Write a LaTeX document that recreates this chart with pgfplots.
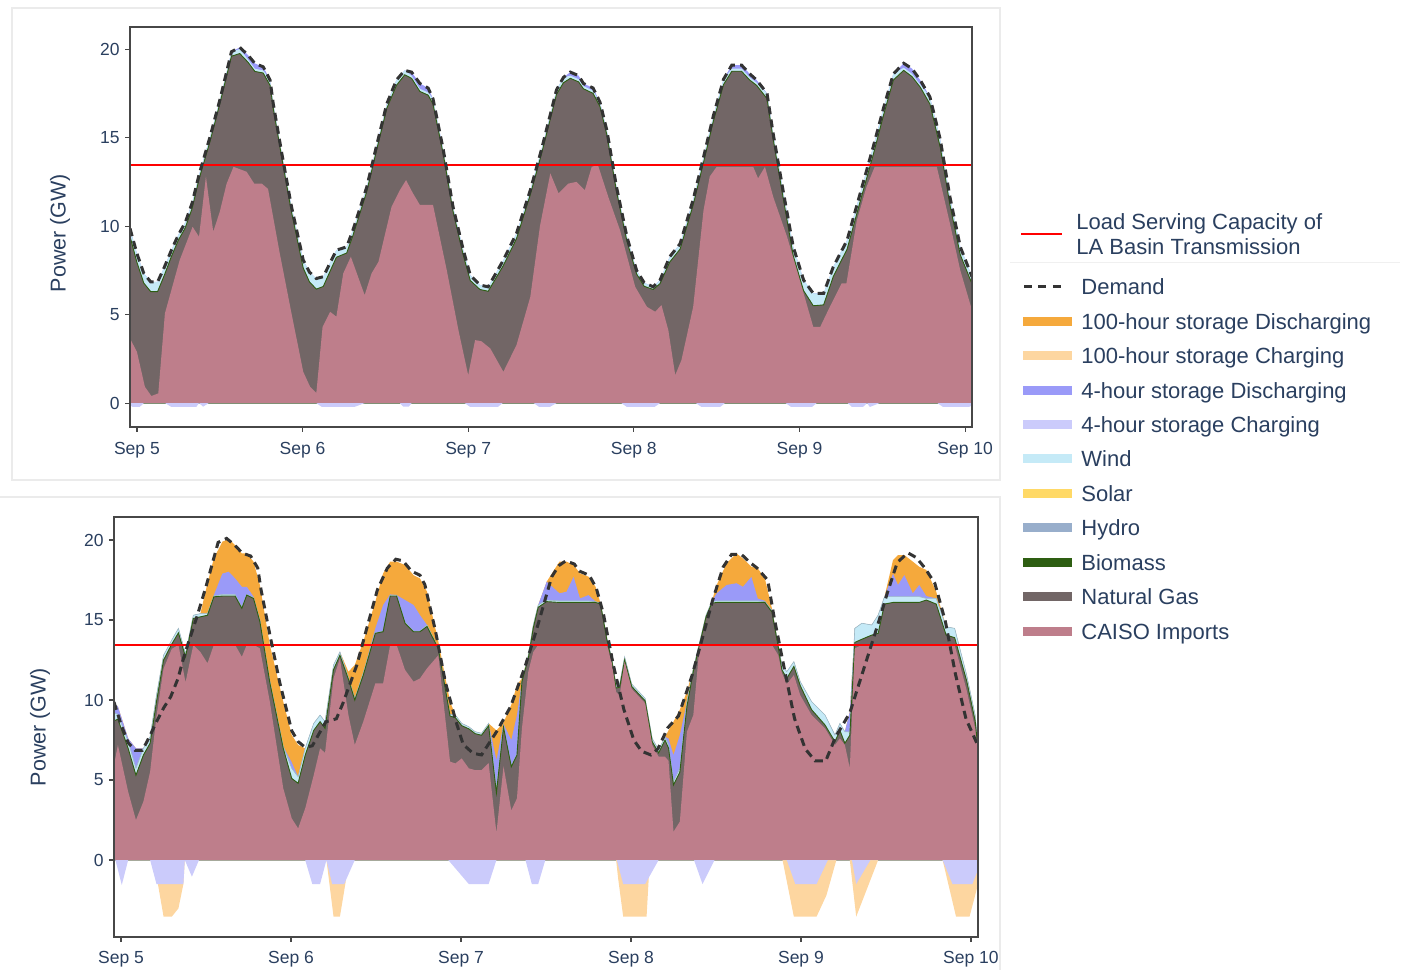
\documentclass[border=0pt]{standalone}
\usepackage{fontspec}
\setmainfont{Liberation Sans}
\usepackage{pgfplots}
\usepackage{pgfplotstable}
\pgfplotsset{compat=1.18}

\definecolor{txt}{HTML}{2A3F5F}
\definecolor{cimp}{HTML}{BE7E8B}
\definecolor{cgas}{HTML}{726666}
\definecolor{cbio}{HTML}{2E5E12}
\definecolor{chyd}{HTML}{98AECB}
\definecolor{csol}{HTML}{FFD966}
\definecolor{cwind}{HTML}{C5EAF7}
\definecolor{cfch}{HTML}{CBCBFB}
\definecolor{cfdis}{HTML}{9A9AF8}
\definecolor{chch}{HTML}{FDD6A0}
\definecolor{chdis}{HTML}{F5A93C}
\definecolor{cdem}{HTML}{333333}

% top panel: demand D, wind top W, gas top G (cumulative)
\pgfplotstableread{
h D W G
-1 9.87 9.87 9.42
0 8.46 8.46 7.96
1 7.33 7.33 6.78
2 6.85 6.85 6.30
3 6.85 6.85 6.30
4 7.70 7.70 7.25
5 8.64 8.64 8.29
6 9.50 9.50 9.20
7 10.20 10.20 9.90
8 11.30 11.30 11.00
9 12.90 12.90 12.65
10.6 15.05 15.05 14.80
12 17.10 17.10 16.90
13.7 19.85 19.85 19.60
14.9 20.10 20.00 19.75
16.1 19.66 19.41 19.26
17.1 19.19 18.89 18.74
18.3 19.00 18.80 18.65
19.3 18.25 18.25 17.95
19.75 16.93 16.93 16.68
21 14.10 14.10 13.85
22.4 11.10 11.10 10.80
24.1 8.08 8.08 7.63
25 7.40 7.40 6.85
26 7.04 7.04 6.44
27 7.14 7.14 6.59
28.9 8.64 8.64 8.24
30.4 8.83 8.83 8.48
31.3 9.77 9.77 9.47
33.3 12.20 12.20 11.95
34.7 14.50 14.50 14.25
36.2 16.90 16.90 16.65
37.6 18.25 18.25 17.95
38.8 18.80 18.80 18.55
39.8 18.70 18.50 18.35
41 18.06 17.76 17.61
42.2 17.80 17.55 17.40
42.9 17.20 17.20 16.90
44.4 14.30 14.30 14.05
45.8 11.10 11.10 10.85
47.3 8.64 8.64 8.34
48.3 7.23 7.23 6.93
49.7 6.67 6.67 6.42
50.9 6.57 6.57 6.32
53.1 8.08 8.08 7.78
55 9.59 9.59 9.29
57 12.03 12.03 11.78
58.6 14.30 14.30 14.05
60.8 17.70 17.70 17.45
61.8 18.40 18.40 18.10
62.8 18.70 18.50 18.35
64 18.50 18.30 18.15
64.7 18.06 17.91 17.76
66.1 17.80 17.65 17.50
67.1 17.00 17.00 16.75
68.1 15.40 15.40 15.15
69.5 12.20 12.20 11.95
71 9.40 9.40 9.15
72.4 7.50 7.50 7.30
73.5 6.80 6.80 6.60
74.8 6.57 6.57 6.42
75.8 6.95 6.95 6.75
77.2 8.27 8.27 7.97
78.7 9.00 9.00 8.70
80.6 11.50 11.50 11.20
82.1 13.90 13.90 13.60
83.5 16.20 16.20 15.90
85 18.30 18.30 18.00
86.2 19.10 18.90 18.75
87.6 19.10 18.90 18.75
88.8 18.60 18.40 18.25
89.8 18.25 18.10 17.95
91.3 17.50 17.50 17.20
92.2 15.20 15.20 14.90
93.7 11.85 11.85 11.45
95.1 8.83 8.83 8.33
96.6 6.95 6.95 6.35
98 6.20 6.20 5.50
99.5 6.20 6.20 5.55
100.9 7.70 7.70 7.15
102.9 9.20 9.20 8.70
104.8 11.85 11.85 11.40
106.7 14.50 14.50 14.05
108.2 16.70 16.70 16.30
109.6 18.60 18.60 18.25
111.1 19.20 18.95 18.80
112.3 18.90 18.60 18.45
113.5 18.25 18.00 17.85
114.9 17.30 17.30 16.90
116.4 14.90 14.90 14.45
117.8 11.65 11.65 11.20
119.3 8.83 8.83 8.38
121 7.14 7.14 6.74
}\toptab

% top panel: CAISO imports
\pgfplotstableread{
h v
-1 3.65
0 2.9
1.16 0.92
2.1 0.4
3.1 0.55
4.06 5.07
6.2 8.08
8.07 9.96
9.0 9.4
10.0 12.8
11.06 9.68
12.0 10.8
13.0 12.4
14.0 13.35
15.9 13.07
17.0 12.4
18.1 12.4
19.0 12.1
20.7 8.46
22.4 5.07
24.1 1.77
25.1 0.92
26.0 0.58
26.9 4.3
28.0 5.16
28.9 4.88
29.9 7.33
31.0 8.27
33.0 6.1
34.0 7.33
35.0 7.98
36.9 11.1
38.1 12.03
39.0 12.6
40.0 11.85
41.0 11.2
42.9 11.2
44.9 7.5
46.6 4.1
48.0 1.58
49.0 3.56
49.9 3.5
51.2 3.09
53.1 1.77
55.0 3.28
57.0 6.0
58.4 10.0
59.9 12.98
61.1 11.85
62.5 12.4
63.7 12.5
64.9 12.03
65.9 13.35
66.8 13.45
68.3 11.65
70.0 9.77
72.2 6.57
73.9 5.44
75.1 5.16
76.0 5.54
77.0 4.12
78.0 1.58
78.9 2.43
80.6 5.44
82.1 10.9
83.0 12.8
84.0 13.35
89.3 13.35
90.0 12.7
91.0 13.35
92.2 11.65
94.2 9.4
96.6 6.2
98.0 4.3
99.0 4.3
100.4 5.44
102.1 6.76
102.8 6.76
104.3 10.3
105.7 12.2
106.9 13.35
115.9 13.35
117.8 10.15
119.3 7.5
121 5.25
}\topimp

% top panel: 4-hour storage charging
\pgfplotstableread{
h v
-1 -0.12
-0.6 -0.22
0.4 -0.22
1.0 0
4.1 0
5.0 -0.22
8.6 -0.22
9.0 0
9.6 -0.2
10.4 0
26.0 0
26.8 -0.22
31.5 -0.22
33.0 0
38.1 0
38.6 -0.2
39.4 -0.2
39.8 0
47.5 0
48.3 -0.22
52.3 -0.22
53.0 0
57.5 0
58.3 -0.22
59.8 -0.22
60.8 0
70.2 0
71.0 -0.22
75.0 -0.22
75.8 0
81.0 0
81.8 -0.22
84.5 -0.22
85.2 0
94.0 0
94.8 -0.22
97.8 -0.22
98.5 0
103.0 0
103.6 -0.22
105.2 -0.22
105.8 0
106.2 -0.22
107.6 0
116.0 0
116.8 -0.22
120.5 -0.22
121 -0.15
}\topch

% bottom panel, cumulative tops: S (100h dis), B (4h dis), W (wind), G (gas), I (imports)
\pgfplotstableread{
h S B W G I
-1.0 9.80 9.80 9.20 8.70 5.94
-0.45 9.60 9.60 9.10 8.80 7.19
1.0 7.60 7.60 7.40 6.98 4.27
2.1 6.98 6.98 5.73 5.30 2.50
3.15 6.98 6.98 6.98 6.56 3.65
4.1 7.70 7.70 7.70 7.30 5.52
5.0 10.30 10.30 10.30 9.90 9.00
6.0 12.80 12.80 12.80 12.50 11.97
7.16 13.75 13.75 13.75 13.50 13.20
8.1 14.48 14.48 14.48 14.20 13.45
9.1 12.90 12.90 12.90 12.70 11.10
10.2 15.30 15.30 15.30 15.10 13.45
11.2 15.40 15.40 15.40 15.20 13.00
12.2 17.30 15.40 15.40 15.30 12.30
13.1 18.85 16.56 16.50 16.45 13.45
14.3 19.90 17.90 16.60 16.50 13.45
15.2 20.06 18.02 16.60 16.50 13.45
16.1 19.68 17.60 16.60 16.50 13.45
17.05 19.16 17.08 15.80 15.73 12.70
17.75 19.16 17.08 16.60 16.56 13.45
18.7 18.65 16.46 16.40 16.35 13.45
19.6 17.19 15.00 15.00 14.90 13.23
21.0 13.45 11.20 11.20 11.10 9.90
22.9 9.90 7.10 7.10 6.98 4.48
24.1 7.81 6.10 5.73 5.10 2.60
25.0 7.19 5.20 5.20 4.80 1.98
26.0 6.98 6.98 6.98 6.56 3.23
27.2 8.54 8.54 8.54 8.10 5.30
28.1 9.06 9.06 9.06 8.65 6.98
28.8 8.65 8.65 8.65 8.23 6.70
30.0 12.19 12.19 12.19 11.90 11.35
30.9 13.02 13.02 13.00 12.80 12.60
32.1 11.77 11.40 11.40 11.30 9.06
33.0 12.19 10.10 10.10 10.00 7.19
34.2 13.65 11.70 11.70 11.56 8.65
35.9 16.15 14.48 14.20 14.17 11.04
37.0 17.92 15.94 14.30 14.27 11.04
38.0 18.65 16.60 16.56 16.50 13.45
38.9 18.65 16.56 16.56 16.50 13.45
40.1 18.44 16.25 14.85 14.80 11.88
41.3 17.80 15.94 14.30 14.27 11.15
42.2 17.60 15.31 14.30 14.27 11.35
43.2 16.77 14.69 14.69 14.60 11.98
44.8 13.65 13.23 13.23 13.20 12.80
46.45 9.90 9.10 9.10 9.00 6.15
47.2 9.06 9.06 9.06 8.90 6.04
48.1 8.54 8.54 8.54 8.40 6.35
49.1 8.33 8.33 8.33 8.20 5.73
50.0 8.02 8.02 8.02 7.90 5.62
50.9 7.92 7.92 7.92 7.80 5.62
51.9 8.54 8.54 8.54 8.40 6.06
53.0 8.10 6.25 4.50 4.20 1.70
54.0 8.60 8.50 8.40 8.30 5.85
55.1 9.70 7.50 5.90 5.83 3.10
55.9 10.94 9.06 6.60 6.56 3.85
56.6 11.35 11.20 11.20 11.15 8.23
57.5 12.80 12.80 12.80 12.60 11.77
58.2 14.69 14.69 14.69 14.50 13.00
58.9 15.94 15.94 15.94 15.80 13.45
60.1 17.40 17.40 16.25 16.15 13.45
61.9 18.65 16.67 16.20 16.10 13.45
62.9 18.65 16.77 16.20 16.10 13.45
63.9 18.44 17.70 16.20 16.10 13.45
64.8 17.92 16.35 16.20 16.10 13.45
66.0 17.71 16.56 16.20 16.10 13.45
67.0 17.08 16.15 16.15 16.10 13.45
67.7 16.04 16.04 16.04 16.00 13.45
68.6 13.85 13.85 13.85 13.75 13.45
69.3 12.60 12.60 12.60 12.45 12.30
69.9 10.94 10.94 10.94 10.75 10.50
70.4 11.00 11.00 11.00 10.80 10.30
71.1 12.70 12.70 12.70 12.50 12.40
72.1 11.00 11.00 11.00 10.85 10.70
74.0 10.10 10.10 10.10 9.95 9.80
75.0 7.60 7.60 7.60 7.40 7.19
75.9 6.88 6.88 6.88 6.70 6.46
76.8 7.70 7.70 7.70 7.50 6.46
77.3 8.10 7.60 7.20 7.00 6.20
78.0 8.65 6.56 4.90 4.70 1.77
78.9 9.40 7.81 5.73 5.50 2.40
79.9 10.52 9.90 9.90 9.60 8.02
80.8 11.98 11.98 11.98 11.80 9.06
81.7 13.65 13.65 13.65 13.50 13.45
82.6 15.31 15.31 15.31 15.20 13.45
83.4 16.15 16.15 16.15 16.05 13.45
84.1 17.19 16.67 16.20 16.10 13.45
85.5 18.54 17.19 16.20 16.10 13.45
86.9 19.16 17.30 16.20 16.10 13.45
87.8 18.85 17.08 16.20 16.10 13.45
89.0 18.33 17.70 16.20 16.10 13.45
89.9 18.23 16.35 16.20 16.10 13.45
90.9 17.60 16.20 16.15 16.10 13.45
91.9 15.73 15.60 15.60 15.50 13.45
92.8 13.45 13.45 13.45 13.30 12.80
93.3 12.20 12.20 12.20 11.90 11.70
94.0 11.77 11.77 11.77 11.35 11.00
95.0 12.40 12.40 12.40 12.10 11.56
95.9 11.15 11.15 11.15 10.90 10.30
97.5 9.90 9.90 9.90 9.40 9.06
99.4 9.06 9.06 9.06 8.44 8.23
100.8 7.81 7.81 7.81 7.40 7.19
101.5 8.54 8.54 8.54 8.10 7.60
102.2 8.02 8.02 8.02 7.30 7.19
102.9 9.27 9.27 8.00 7.80 5.73
103.6 14.48 14.48 14.48 13.60 13.23
104.6 14.80 14.80 14.80 13.80 13.45
106.0 14.69 14.69 14.69 14.06 13.45
106.9 15.31 15.31 15.31 14.17 13.45
107.8 16.46 16.46 16.46 16.00 13.45
109.0 18.75 17.90 16.46 16.10 13.45
109.7 19.06 17.19 16.46 16.10 13.45
110.6 19.06 17.81 16.46 16.10 13.45
111.8 18.65 16.67 16.46 16.10 13.45
112.7 18.33 17.19 16.46 16.10 13.45
113.7 18.13 16.50 16.35 16.25 13.45
115.1 16.77 16.35 16.35 16.00 13.45
116.5 14.58 14.58 14.58 14.06 13.45
117.7 14.48 14.48 14.48 13.90 13.45
119.4 11.56 11.56 11.56 11.20 10.60
120.6 9.06 9.06 9.06 8.70 8.23
121.0 7.20 7.20 7.20 6.90 6.60
}\bottab

% bottom panel: 100-hour storage charging (cumulative below 4-hour charging)
\pgfplotstableread{
h v
-1 0
5.0 0
5.2 -1.5
6.0 -3.54
7.16 -3.54
8.1 -3.02
8.8 -1.5
9.0 0
29.0 0
30.0 -3.54
30.9 -3.54
31.7 -1.4
32.0 0
69.9 0
70.2 -1.2
70.9 -3.54
74.2 -3.54
74.5 -1.2
74.6 0
93.4 0
95.0 -3.54
98.2 -3.54
99.6 -2.2
101.0 0
102.9 0
103.8 -3.54
106.9 0
116.0 0
117.9 -3.54
119.8 -3.54
120.6 -2.2
121 -1.5
}\botch

% bottom panel: 4-hour storage charging
\pgfplotstableread{
h v
-1 0
-0.8 0
0.1 -1.56
1.0 0
4.1 0
5.0 -1.5
8.8 -1.5
9.0 0
10.0 -1.04
11.0 0
26.0 0
27.0 -1.5
28.1 -1.5
29.0 0
29.8 -1.5
31.5 -1.5
33.0 0
46.2 0
49.1 -1.5
51.9 -1.5
53.0 0
57.1 0
58.0 -1.5
58.9 -1.5
59.9 0
70.0 0
70.9 -1.5
74.0 -1.5
75.9 0
80.9 0
82.1 -1.5
83.8 0
94.0 0
95.2 -1.5
98.2 -1.5
99.8 0
103.2 0
103.8 -1.5
105.8 0
116.0 0
117.4 -1.5
120.2 -1.5
121 -0.6
}\botcf

\pgfplotsset{
  base/.style={
    scale only axis,
    no markers,
    axis on top,
    xmin=-1, xmax=121,
    xtick={0,24,48,72,96,120},
    xticklabels={Sep 5,Sep 6,Sep 7,Sep 8,Sep 9,Sep 10},
    ytick={0,5,10,15,20},
    tick pos=left,
    tick align=outside,
    major tick length=2.5pt,
    axis line style={draw=black!72, line width=0.75pt},
    every tick/.style={draw=black!72, line width=0.6pt},
    ticklabel style={font=\fontsize{8.75}{10}\selectfont, text=txt},
    /pgf/number format/assume math mode=true,
    yticklabel style={anchor=east, inner sep=0pt, xshift=-2.5pt},
    ylabel={Power (GW)},
  }
}

\begin{document}
\begin{tikzpicture}
\useasboundingbox (0,0) rectangle (703.5pt,485pt);
\begin{scope}[x=0.5pt,y=-0.5pt,shift={(0pt,485pt)}]
  % panel frames
  \draw[black!8, line width=0.6pt] (12,8) rectangle (1000,480);
  \draw[black!8, line width=0.6pt] (0,497) -- (1000,497) -- (1000,970);
  % legend
  \draw[red, line width=1.1pt] (1021,234) -- (1062,234);
  \node[anchor=base west, inner sep=0pt, text=txt, font=\fontsize{11}{13}\selectfont] at (1076,230) {Load Serving Capacity of};
  \node[anchor=base west, inner sep=0pt, text=txt, font=\fontsize{11}{13}\selectfont] at (1076,255) {LA Basin Transmission};
  \draw[black!6, line width=0.5pt] (1010,263) -- (1400,263);
  \draw[cdem, line width=1.5pt, dash pattern=on 4pt off 3.2pt] (1024,287) -- (1066,287);
  \node[anchor=base west, inner sep=0pt, text=txt, font=\fontsize{11}{13}\selectfont] at (1081,295) {Demand};
  \foreach \c/\y/\t in {chdis/321.7/100-hour storage Discharging,
                        chch/356/100-hour storage Charging,
                        cfdis/390.7/4-hour storage Discharging,
                        cfch/425/4-hour storage Charging,
                        cwind/459/Wind,
                        csol/493.3/Solar,
                        chyd/527.7/Hydro,
                        cbio/562.3/Biomass,
                        cgas/596.7/Natural Gas,
                        cimp/631/CAISO Imports}{
    \fill[\c] (1023,\y-4.5) rectangle (1072,\y+4.5);
    \node[anchor=base west, inner sep=0pt, text=txt, font=\fontsize{11}{13}\selectfont] at (1081,\y+8) {\t};
  }
\end{scope}

% ---------------- top panel ----------------
\begin{axis}[base,
  at={(65pt,271.5pt)}, anchor=south west,
  width=421pt, height=200pt,
  ymin=-1.35, ymax=21.25,
  xticklabel style={anchor=base, yshift=-11.5pt},
  every axis y label/.style={at={(axis description cs:-0.0831,0.485)}, rotate=90, anchor=center,
    font=\fontsize{10.75}{12}\selectfont, text=txt},
]
  \addplot[fill=cfdis, draw=none] table[x=h, y=D]{\toptab} \closedcycle;
  \addplot[fill=cwind, draw=none] table[x=h, y=W]{\toptab} \closedcycle;
  \addplot[fill=cgas, draw=cbio, line width=0.45pt] table[x=h, y=G]{\toptab} \closedcycle;
  \addplot[fill=cimp, draw=none] table[x=h, y=v]{\topimp} \closedcycle;
  \addplot[fill=cfch, draw=none] table[x=h, y=v]{\topch} \closedcycle;
  \addplot[draw=red, line width=1.1pt] coordinates {(-1,13.45) (121,13.45)};
  \addplot[draw=cdem, line width=1.5pt, dash pattern=on 4pt off 2.6pt] table[x=h, y=D]{\toptab};
\end{axis}

% ---------------- bottom panel ----------------
\begin{axis}[base,
  at={(57pt,16.5pt)}, anchor=south west,
  width=432pt, height=210pt,
  ymin=-4.81, ymax=21.44,
  xticklabel style={anchor=base, yshift=-10.5pt},
  every axis y label/.style={at={(axis description cs:-0.0856,0.5)}, rotate=90, anchor=center,
    font=\fontsize{10.75}{12}\selectfont, text=txt},
]
  \addplot[fill=chdis, draw=none] table[x=h, y=S]{\bottab} \closedcycle;
  \addplot[fill=cfdis, draw=none] table[x=h, y=B]{\bottab} \closedcycle;
  \addplot[fill=cwind, draw=cwind!80!black, line width=0.3pt] table[x=h, y=W]{\bottab} \closedcycle;
  \addplot[fill=cgas, draw=cbio, line width=0.45pt] table[x=h, y=G]{\bottab} \closedcycle;
  \addplot[fill=cimp, draw=none] table[x=h, y=I]{\bottab} \closedcycle;
  \addplot[fill=chch, draw=none] table[x=h, y=v]{\botch} \closedcycle;
  \addplot[fill=cfch, draw=none] table[x=h, y=v]{\botcf} \closedcycle;
  \addplot[draw=red, line width=1.1pt] coordinates {(-1,13.45) (121,13.45)};
  \addplot[draw=cdem, line width=1.5pt, dash pattern=on 4pt off 2.6pt] table[x=h, y=D]{\toptab};
\end{axis}
\end{tikzpicture}
\end{document}
